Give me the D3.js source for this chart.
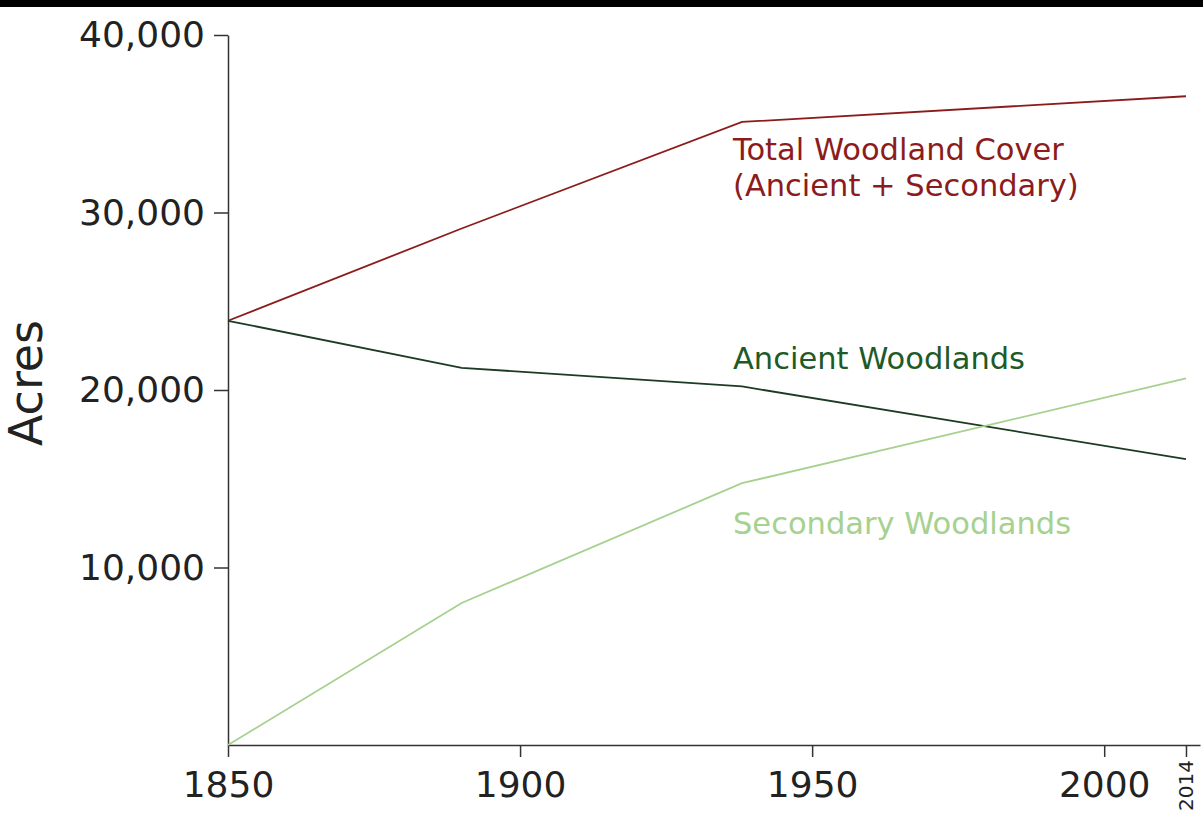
<!DOCTYPE html>
<meta charset="utf-8">
<style>
  body { margin: 0; background: #fff; }
  svg { display: block; font-family: "DejaVu Sans", Verdana, sans-serif; }
  .axis path, .axis line { stroke: #333; stroke-width: 1.5; }
  .axis text { fill: #222; }
  .series { fill: none; stroke-width: 1.8; }
</style>
<svg width="1203" height="821"></svg>
<script src="https://d3js.org/d3.v7.min.js"></script>
<script>

// years sampled
var years = [1850, 1890, 1938, 2014];

// acres
var totalCover = [23900, 29100, 35100, 36550];
var ancient = [23900, 21250, 20200, 16100];
var secondary = [0, 8000, 14750, 20650];

var yTicks = [10000, 20000, 30000, 40000];
var xTicks = [1850, 1900, 1950, 2000, 2014];

var series = [
  { name: "total", values: totalCover, color: "#8c1c1c",
    label: ["Total Woodland Cover", "(Ancient + Secondary)"], labelColor: "#8c1c1c", labelY: 160 },
  { name: "ancient", values: ancient, color: "#1b3b22",
    label: ["Ancient Woodlands"], labelColor: "#1d5a28", labelY: 369 },
  { name: "secondary", values: secondary, color: "#a6d18f",
    label: ["Secondary Woodlands"], labelColor: "#a6d18f", labelY: 534 }
];

var svg = d3.select("svg"),
    width = +svg.attr("width"),
    height = +svg.attr("height");

// black strip along the top of the capture
svg.append("rect")
    .attr("width", width)
    .attr("height", 7)
    .attr("fill", "#000");

var x = d3.scaleLinear()
    .domain([1850, 2016.4])
    .range([228, 1200]);

var y = d3.scaleLinear()
    .domain([0, 40000])
    .range([745, 35]);

// y axis
var gy = svg.append("g")
    .attr("class", "axis")
    .attr("transform", "translate(" + x(1850) + ",0)")
    .call(d3.axisLeft(y)
      .tickValues(yTicks)
      .tickFormat(d3.format(","))
      .tickSize(14)
      .tickSizeOuter(0)
      .tickPadding(9))
    .attr("font-family", null)
    .attr("font-size", 36);

// x axis
var gx = svg.append("g")
    .attr("class", "axis")
    .attr("transform", "translate(0," + y(0) + ")")
    .call(d3.axisBottom(x)
      .tickValues(xTicks)
      .tickFormat(d3.format("d"))
      .tickSize(12)
      .tickSizeOuter(0)
      .tickPadding(14))
    .attr("font-family", null)
    .attr("font-size", 36);

// last tick gets a small rotated label
gx.selectAll(".tick")
  .filter(function(d) { return d === 2014; })
  .select("text")
    .attr("font-size", 20)
    .attr("transform", "rotate(-90)")
    .attr("text-anchor", "end")
    .attr("x", -15)
    .attr("y", 0)
    .attr("dy", "0.35em");

// y label
svg.append("text")
    .attr("transform", "translate(42,383) rotate(-90)")
    .attr("text-anchor", "middle")
    .attr("font-size", 46)
    .attr("fill", "#222")
    .text("Acres");

var line = d3.line()
    .x(function(d) { return x(d[0]); })
    .y(function(d) { return y(d[1]); });

svg.selectAll("path.series")
  .data(series)
  .enter().append("path")
    .attr("class", "series")
    .attr("stroke", function(d) { return d.color; })
    .attr("d", function(d) { return line(d3.zip(years, d.values)); });

// series labels
series.forEach(function(s) {
  var t = svg.append("text")
      .attr("x", 733)
      .attr("y", s.labelY)
      .attr("font-size", 30.5)
      .attr("fill", s.labelColor);
  s.label.forEach(function(l, i) {
    t.append("tspan")
      .attr("x", 733)
      .attr("dy", i === 0 ? 0 : 36)
      .text(l);
  });
});

</script>
